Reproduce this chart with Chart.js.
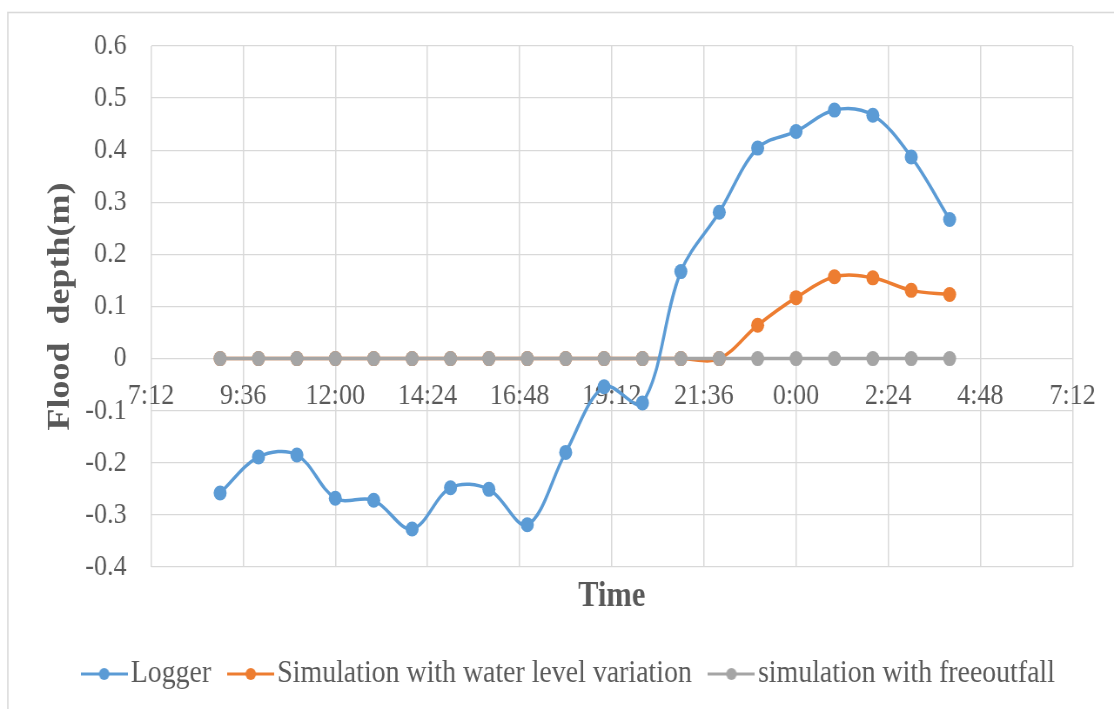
<!DOCTYPE html>
<html>
<head>
<meta charset="utf-8">
<title>Flood depth</title>
<script src="https://cdn.jsdelivr.net/npm/chart.js@4.4.1/dist/chart.umd.min.js"></script>
<style>
  body { margin: 0; background: #fff; }
</style>
</head>
<body>
<!-- drawn 1280 wide and shown at 1114 so the serif text comes out condensed -->
<canvas id="floodChart" width="1280" height="709" style="width:1114px;height:709px"></canvas>
<script>
// hourly readings, 9:00 through 4:00 the next morning
const timeLabels = ['9:00', '10:00', '11:00', '12:00', '13:00', '14:00', '15:00', '16:00', '17:00', '18:00',
  '19:00', '20:00', '21:00', '22:00', '23:00', '0:00', '1:00', '2:00', '3:00', '4:00'];

const loggerDepth = [-0.258, -0.189, -0.185, -0.268, -0.272, -0.327, -0.248, -0.251, -0.319, -0.180,
  -0.054, -0.085, 0.167, 0.281, 0.404, 0.436, 0.477, 0.467, 0.387, 0.267];
const waterLevelDepth = [0, 0, 0, 0, 0, 0, 0, 0, 0, 0,
  0, 0, 0, 0, 0.064, 0.117, 0.157, 0.155, 0.131, 0.123];
const freeOutfallDepth = [0, 0, 0, 0, 0, 0, 0, 0, 0, 0,
  0, 0, 0, 0, 0, 0, 0, 0, 0, 0];

// axis range in minutes from midnight of the first day (7:12 to 7:12)
const xMin = 432;
const xMax = 1872;
const xStep = 144;

const FONT = "'Liberation Serif', 'Times New Roman', serif";
const TEXT = '#595959';
const GRID = '#D9D9D9';

// turn clock labels into running minutes, rolling over past midnight
const minutes = [];
timeLabels.forEach((t, i) => {
  const [h, m] = t.split(':').map(Number);
  let v = h * 60 + m;
  while (i > 0 && v < minutes[i - 1]) v += 1440;
  minutes.push(v);
});

const toPoints = values => values.map((y, i) => ({ x: minutes[i], y: y }));

const clock = v => Math.floor(v / 60) % 24 + ':' + String(v % 60).padStart(2, '0');

// little line-and-dot swatch for the legend
function swatch(color) {
  const c = document.createElement('canvas');
  c.width = 54;
  c.height = 14;
  const g = c.getContext('2d');
  g.strokeStyle = color;
  g.lineWidth = 3;
  g.beginPath();
  g.moveTo(0, 7);
  g.lineTo(54, 7);
  g.stroke();
  g.fillStyle = color;
  g.beginPath();
  g.arc(27, 7, 6, 0, Math.PI * 2);
  g.fill();
  return c;
}

const colors = ['#5B9BD5', '#ED7D31', '#A5A5A5'];
const swatches = colors.map(swatch);

function series(label, values, color, order) {
  return {
    label: label,
    data: toPoints(values),
    borderColor: color,
    backgroundColor: color,
    pointBackgroundColor: color,
    pointBorderColor: color,
    pointBorderWidth: 0,
    pointRadius: 7.5,
    borderWidth: 3.5,
    tension: 0.35,
    fill: false,
    order: order
  };
}

// light frame round the whole chart
const frame = {
  id: 'frame',
  beforeDraw(chart) {
    const ctx = chart.ctx;
    ctx.save();
    ctx.strokeStyle = GRID;
    ctx.lineWidth = 1.6;
    ctx.strokeRect(9, 12.5, 2000, 2000);
    ctx.restore();
  }
};

// nudge the legend row a bit to the right
const legendShift = {
  id: 'legendShift',
  afterLayout(chart) {
    chart.legend.left += 38;
    chart.legend.right += 38;
  }
};

const ctx = document.getElementById('floodChart').getContext('2d');

const floodChart = new Chart(ctx, {
  type: 'line',
  data: {
    datasets: [
      series('Logger', loggerDepth, colors[0], 0),
      series('Simulation with water level variation', waterLevelDepth, colors[1], 2),
      series('simulation with freeoutfall', freeOutfallDepth, colors[2], 1)
    ]
  },
  options: {
    responsive: false,
    animation: false,
    layout: {
      padding: { left: 9, right: 47.7, top: 42, bottom: 9 }
    },
    scales: {
      x: {
        type: 'linear',
        position: { y: 0 },
        min: xMin,
        max: xMax,
        ticks: {
          stepSize: xStep,
          autoSkip: false,
          maxRotation: 0,
          padding: 20,
          color: TEXT,
          font: { family: FONT, size: 30 },
          callback: v => clock(v)
        },
        grid: { color: GRID, drawTicks: false, lineWidth: 1.5 },
        border: { display: false }
      },
      // carries the "Time" caption under the plot
      xt: {
        type: 'linear',
        axis: 'x',
        position: 'bottom',
        ticks: { display: false },
        grid: { display: false },
        border: { display: false },
        title: {
          display: true,
          text: 'Time',
          color: TEXT,
          font: { family: FONT, size: 35, weight: 'bold' },
          padding: { top: 0, bottom: 9 }
        },
        afterFit(scale) { scale.height = 60; }
      },
      y: {
        min: -0.4,
        max: 0.6,
        ticks: {
          stepSize: 0.1,
          padding: 28,
          color: TEXT,
          font: { family: FONT, size: 30 },
          callback: v => String(Number(v.toFixed(1)))
        },
        grid: { color: GRID, drawTicks: false, lineWidth: 1.3 },
        border: { display: false },
        title: {
          display: true,
          text: 'Flood  depth(m)',
          color: TEXT,
          font: { family: FONT, size: 36, weight: 'bold' },
          padding: { top: 39, bottom: 0 }
        },
        afterFit(scale) { scale.width = 164.5; }
      }
    },
    plugins: {
      tooltip: { enabled: false },
      legend: {
        position: 'bottom',
        labels: {
          usePointStyle: true,
          pointStyleWidth: 29,
          padding: 31,
          color: TEXT,
          font: { family: FONT, size: 32 },
          generateLabels(chart) {
            const items = Chart.defaults.plugins.legend.labels.generateLabels(chart);
            items.forEach(item => { item.pointStyle = swatches[item.datasetIndex]; });
            return items.sort((a, b) => a.datasetIndex - b.datasetIndex);
          }
        }
      }
    }
  },
  plugins: [frame, legendShift]
});
</script>
</body>
</html>
